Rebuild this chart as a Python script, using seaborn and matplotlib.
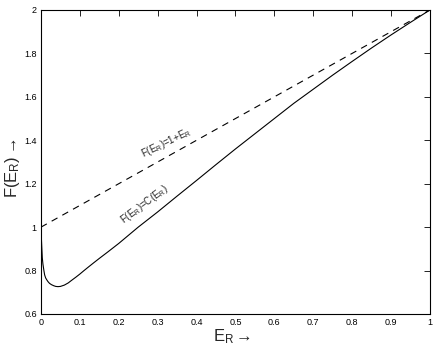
import matplotlib
matplotlib.use("Agg")
import matplotlib.pyplot as plt
import seaborn as sns
import pandas as pd

sns.set_theme(style="white")
plt.rcParams['font.family'] = ['Liberation Sans', 'DejaVu Sans']
plt.rcParams['mathtext.fontset'] = 'custom'
plt.rcParams['mathtext.rm'] = 'Liberation Sans'
plt.rcParams['mathtext.it'] = 'Liberation Sans'

# Solid curve F(E_R) = C(E_R)
e_solid = [0, 0.001, 0.002, 0.0034, 0.005, 0.0075, 0.0094, 0.012, 0.015, 0.018, 0.022,
           0.027, 0.033, 0.038, 0.0437, 0.05, 0.06, 0.07, 0.078, 0.09, 0.1, 0.11,
           0.121, 0.135, 0.15, 0.172, 0.2, 0.25, 0.3, 0.35, 0.4, 0.45, 0.5, 0.55,
           0.6, 0.65, 0.7, 0.75, 0.8, 0.85, 0.9, 0.95, 1.0]
f_solid = [0.97, 0.95, 0.91, 0.858, 0.83, 0.80, 0.78, 0.766, 0.757, 0.749, 0.741,
           0.735, 0.730, 0.727, 0.726, 0.727, 0.733, 0.743, 0.754, 0.770, 0.784, 0.799,
           0.815, 0.835, 0.856, 0.886, 0.925, 1.0, 1.07, 1.143, 1.215, 1.288, 1.36, 1.43,
           1.50, 1.57, 1.635, 1.70, 1.763, 1.825, 1.885, 1.943, 2.0]

# Dashed line F(E_R) = 1 + E_R
e_dash = [0.0, 1.0]
f_dash = [1.0, 2.0]

x_ticks = [0, 0.1, 0.2, 0.3, 0.4, 0.5, 0.6, 0.7, 0.8, 0.9, 1]
x_labels = ['0', '0.1', '0.2', '0.3', '0.4', '0.5', '0.6', '0.7', '0.8', '0.9', '1']
y_ticks = [0.6, 0.8, 1.0, 1.2, 1.4, 1.6, 1.8, 2.0]
y_labels = ['0.6', '0.8', '1', '1.2', '1.4', '1.6', '1.8', '2']

df_solid = pd.DataFrame({'E': e_solid, 'F': f_solid})
df_dash = pd.DataFrame({'E': e_dash, 'F': f_dash})

fig = plt.figure(figsize=(4.36, 3.53), dpi=100)
ax = fig.add_axes([0.094, 0.1105, 0.892, 0.8612])

sns.lineplot(data=df_solid, x='E', y='F', ax=ax, color='black', linewidth=0.8,
             estimator=None, sort=False)
sns.lineplot(data=df_dash, x='E', y='F', ax=ax, color='black', linewidth=0.8,
             linestyle=(0, (6, 5)), estimator=None, sort=False)

ax.set_xlim(0, 1)
ax.set_ylim(0.6, 2)
ax.set_xticks(x_ticks)
ax.set_xticklabels(x_labels)
ax.set_yticks(y_ticks)
ax.set_yticklabels(y_labels)
ax.tick_params(direction='in', length=4, width=0.6, labelsize=6.5, colors='black',
               top=True, right=True, pad=3)
for s in ax.spines.values():
    s.set_color('black')
    s.set_linewidth(0.8)

ax.set_xlabel('')
ax.set_ylabel('')
fig.text(232 / 436, 1 - 337 / 353, r'E$_\mathregular{R}$$\rightarrow$', fontsize=12,
         ha='center', va='center')
fig.text(12 / 436, 1 - 168 / 353, r'F(E$_\mathregular{R}$)$\rightarrow$', fontsize=12,
         ha='center', va='center', rotation=90)

ax.text(0.321, 1.388, r'F(E$_\mathregular{R}$)=1+E$_\mathregular{R}$', fontsize=7,
        rotation=26, ha='center', va='center')
ax.text(0.265, 1.107, r'F(E$_\mathregular{R}$)=C(E$_\mathregular{R}$)', fontsize=7,
        rotation=37, ha='center', va='center')

fig.savefig('out.png', dpi=100)
